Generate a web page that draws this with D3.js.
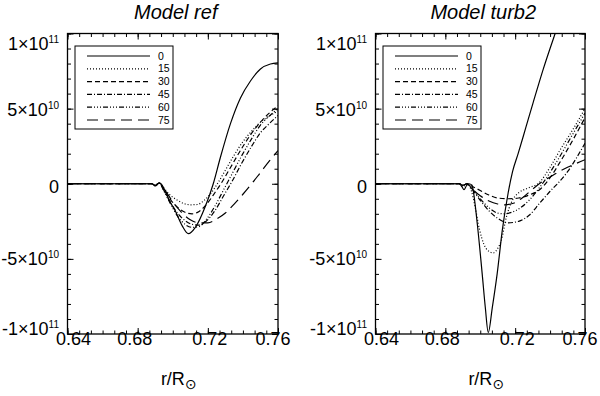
<!DOCTYPE html>
<html>
<head>
<meta charset="utf-8">
<script src="https://cdn.jsdelivr.net/npm/d3@7"></script>
<style>
  body { margin: 0; background: #fff; }
  svg { font-family: "Liberation Sans", Arial, sans-serif; }
</style>
</head>
<body>
<svg id="chart" width="600" height="396"></svg>
<script>
// values are in units of 1e10
const angles = ['0', '15', '30', '45', '60', '75'];
const titles = ['Model ref', 'Model turb2'];
const xTicks = [0.64, 0.68, 0.72, 0.76];
const xTickLabels = ['0.64', '0.68', '0.72', '0.76'];
const yTicks = [-10, -5, 0, 5, 10];
const yTickBase = ['-1×10', '-5×10', '0', '5×10', '1×10'];
const yTickExp = ['11', '10', '', '10', '11'];

// Model ref
const ref0 = [[0.64,0],[0.688,0],[0.690,-0.15],[0.6923,0.05],[0.6945,-0.2],[0.6957,-0.5],[0.698,-1.1],[0.7014,-1.8],
  [0.7054,-2.8],[0.7089,-3.32],[0.7129,-2.9],[0.7186,-1.5],[0.7231,0],[0.7271,1.73],[0.7329,4.0],[0.7386,5.71],
  [0.7443,6.84],[0.75,7.64],[0.7557,7.97],[0.76,8.04]];
const ref15 = [[0.64,0],[0.688,0],[0.690,-0.1],[0.6923,0.05],[0.695,-0.3],[0.698,-0.7],[0.702,-1.05],[0.706,-1.3],
  [0.710,-1.4],[0.714,-1.38],[0.718,-1.1],[0.722,-0.6],[0.726,0.1],[0.730,0.9],[0.735,1.9],[0.740,2.8],
  [0.745,3.5],[0.750,4.1],[0.755,4.5],[0.76,4.85]];
const ref30 = [[0.64,0],[0.688,0],[0.690,-0.12],[0.6923,0.05],[0.695,-0.4],[0.699,-1.1],[0.703,-1.6],[0.707,-1.9],
  [0.711,-2.0],[0.715,-1.85],[0.719,-1.4],[0.724,-0.6],[0.728,0.1],[0.733,1.1],[0.738,2.1],[0.744,3.2],
  [0.750,4.1],[0.755,4.7],[0.76,5.2]];
const ref45 = [[0.64,0],[0.688,0],[0.690,-0.12],[0.6923,0.05],[0.695,-0.45],[0.699,-1.3],[0.703,-2.0],[0.707,-2.45],
  [0.711,-2.7],[0.715,-2.75],[0.719,-2.5],[0.724,-1.8],[0.729,-0.8],[0.734,0.2],[0.739,1.3],[0.745,2.5],
  [0.750,3.4],[0.755,4.0],[0.76,4.55]];
const ref60 = [[0.64,0],[0.688,0],[0.690,-0.13],[0.6923,0.05],[0.695,-0.5],[0.699,-1.4],[0.703,-2.2],[0.707,-2.7],
  [0.711,-2.9],[0.715,-2.85],[0.719,-2.4],[0.724,-1.5],[0.729,-0.4],[0.734,0.7],[0.739,1.8],[0.745,3.0],
  [0.750,3.9],[0.755,4.5],[0.76,5.0]];
const ref75 = [[0.64,0],[0.688,0],[0.690,-0.1],[0.6923,0.05],[0.696,-0.5],[0.700,-1.2],[0.705,-1.9],[0.710,-2.4],
  [0.715,-2.6],[0.720,-2.6],[0.725,-2.35],[0.730,-1.95],[0.735,-1.35],[0.740,-0.7],[0.745,0.0],[0.750,0.75],
  [0.755,1.5],[0.76,2.2]];

// Model turb2
const turb0 = [[0.64,0],[0.688,0],[0.6895,-0.2],[0.6907,-0.4],[0.692,-0.15],[0.6935,0],[0.6953,-0.1],[0.696,-0.47],
  [0.6983,-2.66],[0.7011,-5.98],[0.7029,-8.24],[0.7046,-9.9],[0.7069,-8.24],[0.7097,-5.98],[0.7126,-3.12],
  [0.716,-0.6],[0.7185,0.8],[0.7217,2.0],[0.726,3.7],[0.7303,5.4],[0.736,7.6],[0.7429,10.0],[0.76,15.5]];
const turb15 = [[0.64,0],[0.688,0],[0.690,-0.2],[0.6925,0.0],[0.695,-0.5],[0.697,-1.5],[0.6995,-3.0],[0.702,-4.0],
  [0.705,-4.5],[0.7075,-4.6],[0.710,-4.3],[0.712,-3.8],[0.715,-2.2],[0.718,-1.2],[0.722,-0.6],[0.727,-0.3],
  [0.734,0.1],[0.740,1.1],[0.746,2.3],[0.753,3.6],[0.76,5.0]];
const turb30 = [[0.64,0],[0.688,0],[0.690,-0.1],[0.6925,0.0],[0.695,-0.15],[0.700,-0.45],[0.705,-0.75],[0.710,-0.95],
  [0.716,-1.0],[0.722,-0.95],[0.728,-0.75],[0.734,-0.4],[0.740,0.4],[0.746,1.5],[0.753,2.9],[0.76,4.4]];
const turb45 = [[0.64,0],[0.688,0],[0.690,-0.1],[0.6925,0.0],[0.695,-0.3],[0.700,-1.1],[0.705,-1.8],[0.710,-2.3],
  [0.716,-2.6],[0.722,-2.5],[0.728,-2.1],[0.734,-1.3],[0.740,-0.5],[0.745,0.1],[0.750,0.8],[0.755,1.7],[0.76,2.7]];
const turb60 = [[0.64,0],[0.688,0],[0.690,-0.1],[0.6925,0.0],[0.695,-0.3],[0.700,-1.0],[0.705,-1.6],[0.710,-1.95],
  [0.714,-2.0],[0.718,-1.9],[0.723,-1.6],[0.728,-1.1],[0.733,-0.4],[0.738,0.4],[0.745,1.7],[0.752,3.1],[0.76,4.7]];
const turb75 = [[0.64,0],[0.688,0],[0.690,-0.1],[0.6925,0.0],[0.695,-0.3],[0.700,-0.8],[0.705,-1.15],[0.710,-1.35],
  [0.714,-1.4],[0.719,-1.3],[0.724,-0.95],[0.729,-0.45],[0.735,0.1],[0.740,0.45],[0.745,0.8],[0.750,1.1],
  [0.755,1.35],[0.76,1.6]];

const svg = d3.select('#chart');
const dashes = [null, '1,2', '5,3', '5,2,1,2', '5,2,1,2,1,2,1,2', '11,6'];
const plotTop = 33.5;
const plotBottom = 334;
const xLabelShift = [6, -3, 2, -5];
const yLabelShift = [-5.5, 0, 3, 0.5, 10];

const panels = [
  { left: 67.5, right: 278, series: [ref0, ref15, ref30, ref45, ref60, ref75] },
  { left: 375.5, right: 585, series: [turb0, turb15, turb30, turb45, turb60, turb75] }
];

panels.forEach((p, pi) => {
  const x = d3.scaleLinear().domain([0.64, 0.76]).range([p.left, p.right]);
  const y = d3.scaleLinear().domain([-10, 10]).range([plotBottom, plotTop]);
  const w = p.right - p.left;
  const h = plotBottom - plotTop;
  const g = svg.append('g');

  // clip for curves
  svg.append('clipPath').attr('id', 'clip' + pi)
    .append('rect').attr('x', p.left).attr('y', plotTop).attr('width', w).attr('height', h);

  const xMinor = d3.range(19).map(i => 0.64 + i * 0.04 / 6);
  const yMinor = d3.range(-10, 10.5, 1);

  // inward ticks on all four sides
  const addAxis = (axis, tx, ty) => {
    g.append('g')
      .attr('transform', `translate(${tx},${ty})`)
      .call(axis)
      .call(a => a.select('.domain').remove())
      .call(a => a.selectAll('line').attr('stroke', '#000').attr('stroke-width', 1));
  };
  addAxis(d3.axisBottom(x).tickValues(xMinor).tickSize(-3.5).tickFormat(''), 0, plotBottom);
  addAxis(d3.axisBottom(x).tickValues(xTicks).tickSize(-6).tickFormat(''), 0, plotBottom);
  addAxis(d3.axisTop(x).tickValues(xMinor).tickSize(-3.5).tickFormat(''), 0, plotTop);
  addAxis(d3.axisTop(x).tickValues(xTicks).tickSize(-6).tickFormat(''), 0, plotTop);
  addAxis(d3.axisLeft(y).tickValues(yMinor).tickSize(-3.5).tickFormat(''), p.left, 0);
  addAxis(d3.axisLeft(y).tickValues(yTicks).tickSize(-6).tickFormat(''), p.left, 0);
  addAxis(d3.axisRight(y).tickValues(yMinor).tickSize(-3.5).tickFormat(''), p.right, 0);
  addAxis(d3.axisRight(y).tickValues(yTicks).tickSize(-6).tickFormat(''), p.right, 0);

  // curves
  const line = d3.line().x(d => x(d[0])).y(d => y(d[1])).curve(d3.curveMonotoneX);
  g.append('g').attr('clip-path', `url(#clip${pi})`)
    .selectAll('path')
    .data(p.series)
    .join('path')
    .attr('d', line)
    .attr('fill', 'none')
    .attr('stroke', '#000')
    .attr('stroke-width', 1.2)
    .attr('stroke-dasharray', (d, i) => dashes[i]);

  // frame
  g.append('rect')
    .attr('x', p.left).attr('y', plotTop).attr('width', w).attr('height', h)
    .attr('fill', 'none').attr('stroke', '#000').attr('stroke-width', 1.3);

  // x tick labels
  g.selectAll('.xlab')
    .data(xTicks)
    .join('text')
    .attr('x', (d, i) => x(d) + xLabelShift[i])
    .attr('y', 345)
    .attr('text-anchor', 'middle')
    .attr('font-size', 18)
    .text((d, i) => xTickLabels[i]);

  // y tick labels with exponent
  const yl = g.selectAll('.ylab')
    .data(yTicks)
    .join('text')
    .attr('x', p.left - 8.5)
    .attr('y', (d, i) => y(d) + yLabelShift[i] + 6.5)
    .attr('text-anchor', 'end')
    .attr('font-size', 18);
  yl.append('tspan').text((d, i) => yTickBase[i]);
  yl.append('tspan')
    .attr('dy', -7)
    .attr('font-size', 10)
    .text((d, i) => yTickExp[i]);

  // title
  g.append('text')
    .attr('x', (p.left + p.right) / 2 + 3)
    .attr('y', 19)
    .attr('text-anchor', 'middle')
    .attr('font-size', 20)
    .attr('font-style', 'italic')
    .text(titles[pi]);

  // x axis title r/R_sun
  const xt = g.append('text')
    .attr('x', (p.left + p.right) / 2 + 6)
    .attr('y', 385)
    .attr('text-anchor', 'middle')
    .attr('font-size', 18);
  xt.append('tspan').text('r/R');
  xt.append('tspan').attr('dy', 4).attr('font-size', 14)
    .attr('font-family', 'DejaVu Sans').text('\u2299');

  // legend
  const lx = p.left + 7.5;
  const ly = plotTop + 12.5;
  const legend = g.append('g').attr('transform', `translate(${lx},${ly})`);
  legend.append('rect')
    .attr('width', 98).attr('height', 83)
    .attr('fill', '#fff').attr('stroke', '#000').attr('stroke-width', 1);
  const rows = legend.selectAll('g')
    .data(angles)
    .join('g')
    .attr('transform', (d, i) => `translate(0,${10 + i * 12.8})`);
  rows.append('line')
    .attr('x1', 12).attr('x2', 75)
    .attr('stroke', '#000').attr('stroke-width', 1.2)
    .attr('stroke-dasharray', (d, i) => dashes[i]);
  rows.append('text')
    .attr('x', 83).attr('y', 3.5)
    .attr('font-size', 10.5)
    .text(d => d);
});
</script>
</body>
</html>
